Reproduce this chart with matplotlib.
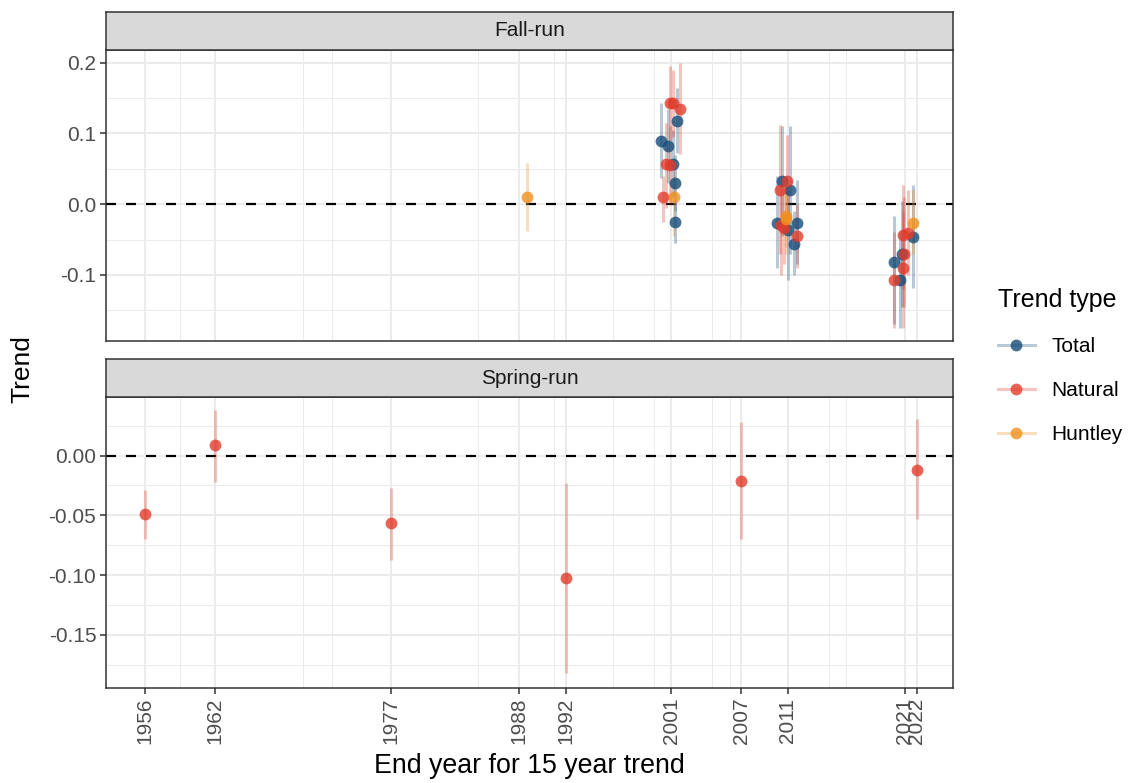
import matplotlib
matplotlib.use('Agg')
import matplotlib.pyplot as plt
from matplotlib.lines import Line2D
from matplotlib.legend_handler import HandlerTuple
import numpy as np

plt.rcParams['font.family'] = ['Liberation Sans', 'DejaVu Sans']

# ---- data ----
# Fall-run
fall_total_year = [2001, 2001, 2001, 2001, 2001, 2001,
                   2011, 2011, 2011, 2011, 2011, 2011,
                   2021, 2021, 2021, 2021]
fall_total_jit = [0.55, -0.83, -0.23, 0.14, 0.30, 0.34,
                  -0.54, 0.20, -0.90, 0.00, 0.80, 0.50,
                  0.70, -0.25, -0.90, -0.40]
fall_total = [0.117, 0.0896, 0.0825, 0.0575, 0.030, -0.0255,
              0.0325, 0.0198, -0.026, -0.036, -0.026, -0.0556,
              -0.047, -0.0697, -0.0816, -0.1065]
fall_total_lo = [0.072, 0.037, 0.030, 0.010, -0.010, -0.055,
                 -0.045, -0.070, -0.090, -0.107, -0.085, -0.100,
                 -0.119, -0.145, -0.170, -0.175]
fall_total_hi = [0.164, 0.143, 0.135, 0.105, 0.070, 0.005,
                 0.110, 0.110, 0.040, 0.020, 0.034, -0.010,
                 0.027, 0.004, -0.017, -0.040]

fall_nat_year = [2001, 2001, 2001, 2001, 2001, 2001,
                 2011, 2011, 2011, 2011, 2011,
                 2021, 2021, 2021, 2021, 2021]
fall_nat_jit = [-0.10, 0.20, 0.80, -0.40, -0.10, -0.70,
                -0.10, -0.70, -0.60, -0.35, 0.74,
                -0.20, 0.30, -0.05, -0.20, -0.93]
fall_nat = [0.143, 0.143, 0.135, 0.057, 0.055, 0.0099,
            0.0325, 0.0198, -0.0297, -0.033, -0.045,
            -0.044, -0.041, -0.0707, -0.0896, -0.1065]
fall_nat_lo = [0.090, 0.095, 0.071, -0.005, 0.000, -0.025,
               -0.030, -0.070, -0.100, -0.085, -0.090,
               -0.120, -0.100, -0.145, -0.175, -0.175]
fall_nat_hi = [0.195, 0.190, 0.199, 0.115, 0.110, 0.040,
               0.098, 0.112, 0.030, 0.020, 0.000,
               0.027, 0.020, 0.010, -0.010, -0.040]

fall_hunt_year = [1988, 2001, 2011, 2011, 2021]
fall_hunt_jit = [0.65, 0.25, -0.20, -0.15, 0.70]
fall_hunt = [0.0103, 0.0099, -0.016, -0.021, -0.027]
fall_hunt_lo = [-0.038, -0.045, -0.060, -0.070, -0.070]
fall_hunt_hi = [0.0576, 0.060, 0.030, 0.025, 0.020]

# Spring-run
spring_nat_year = [1956, 1962, 1977, 1992, 2007, 2022]
spring_nat_jit = [0, 0, 0, 0, 0, 0]
spring_nat = [-0.049, 0.009, -0.056, -0.1025, -0.021, -0.012]
spring_nat_lo = [-0.070, -0.022, -0.087, -0.182, -0.070, -0.053]
spring_nat_hi = [-0.029, 0.038, -0.027, -0.023, 0.028, 0.031]

year_breaks = [1956, 1962, 1977, 1988, 1992, 2001, 2007, 2011, 2021, 2022]
# ggplot minor breaks (midpoints of the unsorted break vector)
year_minor = [1959, 1969.5, 1972, 1984.5, 1991, 1996, 1999.5, 2004.5, 2006, 2014.5, 2016]

trend_types = ['Total', 'Natural', 'Huntley']
cols = {'Total': '#154C79', 'Natural': '#E03C2C', 'Huntley': '#F0901E'}

fig = plt.figure(figsize=(11.28, 7.83), dpi=100)

L, W = 106/1128., 847/1128.
def fy(px):
    return 1 - px/783.

ax_top = fig.add_axes([L, fy(341), W, (341-50)/783.])
ax_bot = fig.add_axes([L, fy(688), W, (688-397)/783.])
st_top = fig.add_axes([L, fy(50), W, 38/783.])
st_bot = fig.add_axes([L, fy(397), W, 38/783.])

grid_c = '#EBEBEB'
def setup_panel(ax, ylim, yticks, yminor, ylabels):
    ax.set_xlim(1952.66, 2025.12)
    ax.set_ylim(*ylim)
    for x in year_minor:
        ax.axvline(x, color=grid_c, lw=0.7, zorder=0)
    for x in year_breaks:
        ax.axvline(x, color=grid_c, lw=1.4, zorder=0)
    for y in yminor:
        ax.axhline(y, color=grid_c, lw=0.7, zorder=0)
    for y in yticks:
        ax.axhline(y, color=grid_c, lw=1.4, zorder=0)
    ax.set_yticks(yticks)
    ax.set_yticklabels(ylabels)
    ax.set_xticks(year_breaks)
    ax.tick_params(axis='both', direction='out', length=4, width=1.1, color='#333333',
                   labelcolor='#4D4D4D', labelsize=15, pad=3)
    for s in ax.spines.values():
        s.set_color('#333333')
        s.set_linewidth(1.1)
    ax.axhline(0, color='black', lw=1.6, ls=(0, (4.5, 4.5)), zorder=2)

setup_panel(ax_top, (-0.1934, 0.218), [-0.1, 0.0, 0.1, 0.2], [-0.15, -0.05, 0.05, 0.15],
            ['-0.1', '0.0', '0.1', '0.2'])
setup_panel(ax_bot, (-0.1944, 0.049), [-0.15, -0.10, -0.05, 0.0],
            [-0.175, -0.125, -0.075, -0.025, 0.025],
            ['-0.15', '-0.10', '-0.05', '0.00'])
ax_top.tick_params(axis='x', labelbottom=False, length=0)
ax_bot.set_xticklabels([str(y) for y in year_breaks], rotation=90)

def plot_series(ax, year, jit, val, lo, hi, kind):
    x = np.array(year) + np.array(jit)
    ax.vlines(x, lo, hi, color=cols[kind], lw=2.2, alpha=0.3, zorder=3)
    ax.plot(x, val, 'o', color=cols[kind], ms=8.5, alpha=0.8, mec='none', zorder=4)

plot_series(ax_top, fall_total_year, fall_total_jit, fall_total, fall_total_lo, fall_total_hi, 'Total')
plot_series(ax_top, fall_nat_year, fall_nat_jit, fall_nat, fall_nat_lo, fall_nat_hi, 'Natural')
plot_series(ax_top, fall_hunt_year, fall_hunt_jit, fall_hunt, fall_hunt_lo, fall_hunt_hi, 'Huntley')
plot_series(ax_bot, spring_nat_year, spring_nat_jit, spring_nat, spring_nat_lo, spring_nat_hi, 'Natural')

for st, name in [(st_top, 'Fall-run'), (st_bot, 'Spring-run')]:
    st.set_facecolor('#D9D9D9')
    st.set_xticks([])
    st.set_yticks([])
    for s in st.spines.values():
        s.set_color('#333333')
        s.set_linewidth(1.1)
    st.text(0.5, 0.5, name, transform=st.transAxes, ha='center', va='center',
            fontsize=15, color='#1A1A1A')

fig.text(22/1128., fy(369), 'Trend', rotation=90, ha='center', va='center', fontsize=19)
fig.text((106+953)/2/1128., fy(766), 'End year for 15 year trend', ha='center', va='center',
         fontsize=19.3)

handles = []
for k in trend_types:
    handles.append((Line2D([], [], color=cols[k], lw=2.2, alpha=0.3),
                    Line2D([], [], marker='o', ls='', color=cols[k], ms=8.5, alpha=0.8, mec='none')))
leg = fig.legend(handles, trend_types, loc='upper left', bbox_to_anchor=(992/1128., fy(282)),
                 frameon=False, fontsize=15, title='Trend type', title_fontsize=18,
                 handler_map={tuple: HandlerTuple(ndivide=1)}, handlelength=1.75,
                 handletextpad=0.8, labelspacing=1.2, borderaxespad=0, borderpad=0.3,
                 alignment='left')

fig.savefig('out.png', dpi=100)
